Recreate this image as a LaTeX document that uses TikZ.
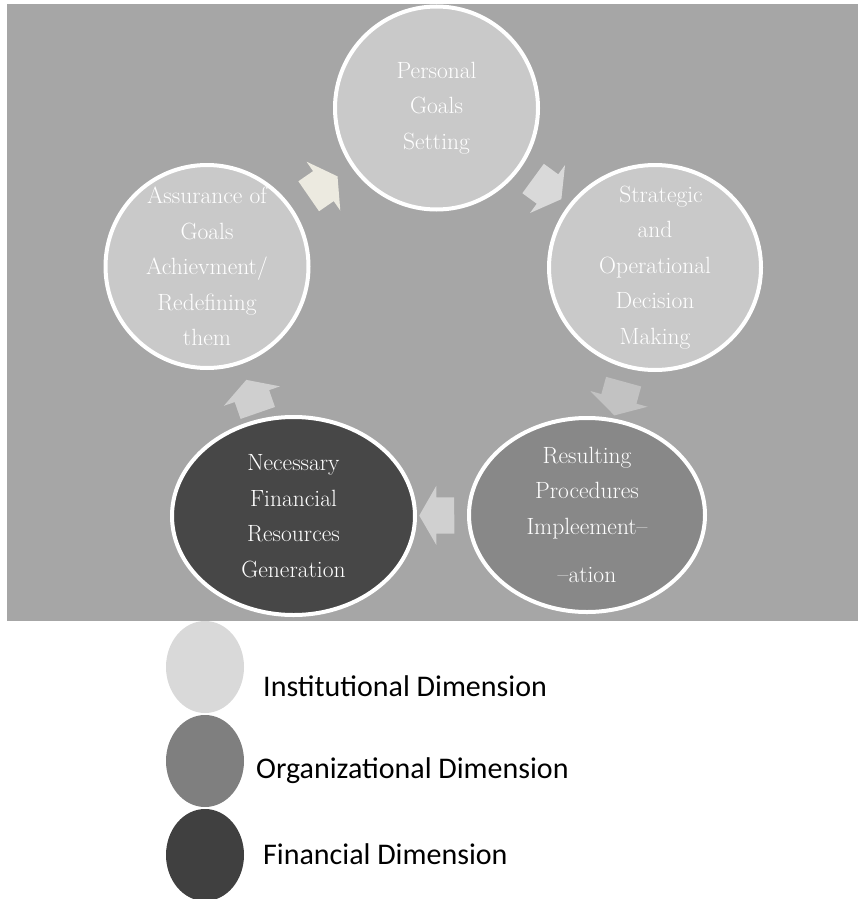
\documentclass[tikz,border=0pt]{standalone}
\usepackage{fontspec}
\newfontfamily\legendfont{Carlito}
\usetikzlibrary{shapes.geometric,shapes.arrows}
\definecolor{bggray}{HTML}{A6A6A6}
\definecolor{instgray}{HTML}{C9C9C9}
\definecolor{orggray}{HTML}{888888}
\definecolor{fingray}{HTML}{474747}
\definecolor{keyinst}{HTML}{D9D9D9}
\definecolor{keyorg}{HTML}{7F7F7F}
\definecolor{keyfin}{HTML}{404040}
\definecolor{flowa}{HTML}{D9D9D9}
\definecolor{flowb}{HTML}{C2C2C2}
\definecolor{flowc}{HTML}{D0D0D0}
\definecolor{flowd}{HTML}{CFCFCF}
\definecolor{flowe}{HTML}{ECEAE0}
\begin{document}
\begin{tikzpicture}[x=1pt,y=-1pt,
  stage/.style={ellipse, draw=white, line width=4pt, inner sep=0pt},
  words/.style={text=white, align=center, inner sep=0pt, font=\fontsize{23.5}{35.5}\selectfont},
  flow/.style={single arrow, draw=none, inner xsep=0pt, inner ysep=18pt, minimum height=35pt,
    single arrow head extend=11.5pt, single arrow tip angle=120, sloped, allow upside down}]
  \useasboundingbox (0,0) rectangle (858,899);
  \fill[bggray] (7,4) rectangle (858,621);
  \node[stage, fill=instgray, minimum width=203pt, minimum height=203pt,
    label={[words]center:Personal\\Goals\\Setting}] (goals) at (436.5,108) {};
  \node[stage, fill=instgray, minimum width=212pt, minimum height=205pt,
    label={[words]center:\hspace*{12pt}Strategic\\and\\Operational\\Decision\\Making}] (decide) at (655,267.5) {};
  \node[stage, fill=orggray, minimum width=236pt, minimum height=194pt,
    label={[words]center:Resulting\\Procedures\\Impleement–\\[13pt]–ation}] (impl) at (587,515) {};
  \node[stage, fill=fingray, minimum width=243pt, minimum height=198pt,
    label={[words]center:Necessary\\Financial\\Resources\\Generation}] (funds) at (293.5,516) {};
  \node[stage, fill=instgray, minimum width=203pt, minimum height=203pt,
    label={[words]center:Assurance of\\Goals\\Achievment/\\Redefining\\them}] (review) at (207,266.5) {};
  \path (goals) -- node[flow, fill=flowa, pos=0.47] (f1) {} (decide);
  \path (decide) -- node[flow, fill=flowb] (f2) {} (impl);
  \path (impl) -- node[flow, fill=flowc] (f3) {} (funds);
  \path (funds) -- node[flow, fill=flowd, pos=0.32] (f4) {} (review);
  \path (review) -- node[flow, fill=flowe, pos=0.45] (f5) {} (goals);
  \foreach \i/\yc/\xt/\yt/\col/\lab in {1/667/263/696/keyinst/Institutional Dimension,
      2/761/256/778/keyorg/Organizational Dimension, 3/855/263/864/keyfin/Financial Dimension}{
    \node[ellipse, fill=\col, minimum width=78pt, minimum height=92pt, inner sep=0pt] (dot\i) at (205,\yc) {};
    \node[anchor=base west, inner sep=0pt, font=\legendfont\fontsize{30}{36}\selectfont] (key\i) at (\xt,\yt) {\lab};
  }
\end{tikzpicture}
\end{document}
